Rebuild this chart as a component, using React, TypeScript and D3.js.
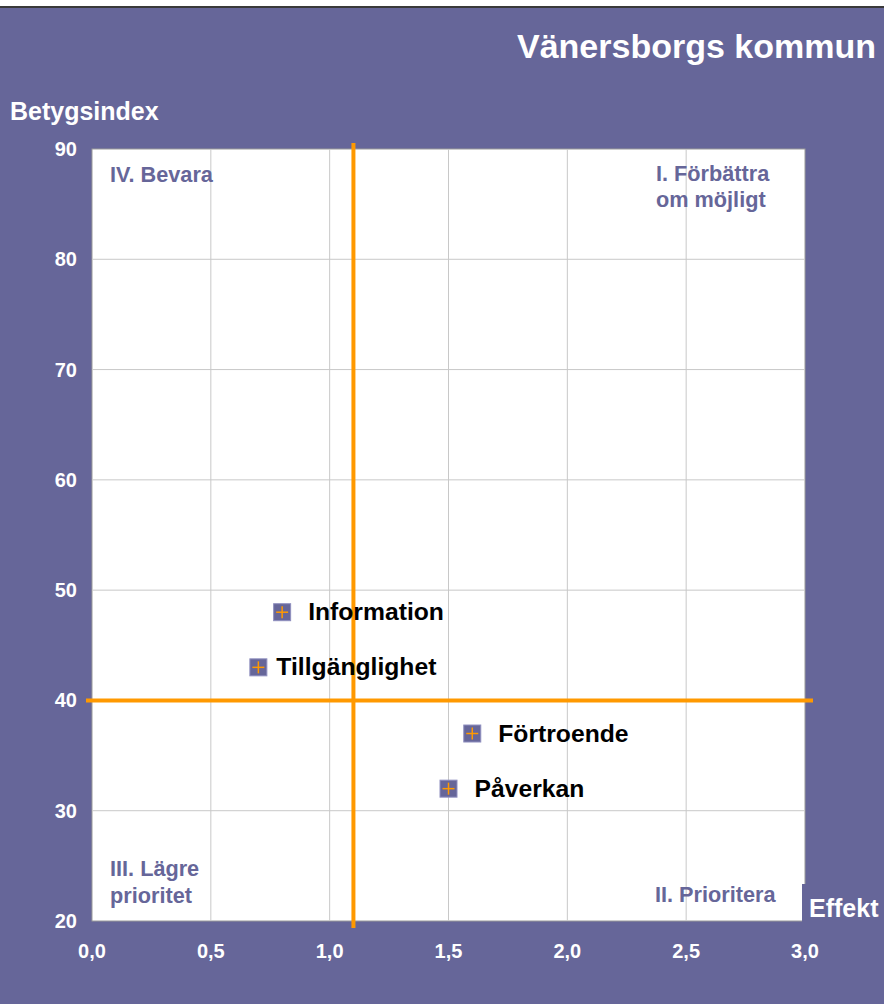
import React from "react";
import * as d3 from "d3";

const names = ["Information", "Tillgänglighet", "Förtroende", "Påverkan"];
const effekt = [0.8, 0.7, 1.6, 1.5];
const betyg = [48, 43, 37, 32];
const xTicks = [0, 0.5, 1.0, 1.5, 2.0, 2.5, 3.0];
const yTicks = [20, 30, 40, 50, 60, 70, 80, 90];
const xCross = 1.1;
const yCross = 40;
const quadrantTop = ["IV. Bevara"];
const quadrantTopRight = ["I. Förbättra", "om möjligt"];
const quadrantBottomLeft = ["III. Lägre", "prioritet"];
const quadrantBottomRight = ["II. Prioritera"];

const labelDx: Record<string, number> = {
  Information: 26,
  Tillgänglighet: 18,
  Förtroende: 26,
  Påverkan: 26,
};

const W = 884;
const H = 1004;
const PURPLE = "#666699";
const ORANGE = "#FF9900";
const FONT = "'Liberation Sans', Arial, sans-serif";

export default function App() {
  const x = d3.scaleLinear().domain([0, 3]).range([92, 805]);
  const y = d3.scaleLinear().domain([20, 90]).range([921, 149]);
  const fmt = (v: number) => d3.format(".1f")(v).replace(".", ",");
  const [x0, x1] = x.range();
  const [y0, y1] = y.range();

  return (
    <svg
      width={W}
      height={H}
      style={{ position: "absolute", left: 0, top: 0, display: "block" }}
      fontFamily={FONT}
    >
      <rect x={0} y={0} width={W} height={H} fill="#ffffff" />
      <rect x={0} y={6} width={W} height={2} fill="#3a3a3a" />
      <rect x={0} y={8} width={W} height={H - 8} fill={PURPLE} />

      <text x={876} y={58} textAnchor="end" fill="#fff" fontWeight="bold" fontSize={34}>
        Vänersborgs kommun
      </text>
      <text x={10} y={120} fill="#fff" fontWeight="bold" fontSize={25}>
        Betygsindex
      </text>

      {/* plot area */}
      <rect x={x0} y={y1} width={x1 - x0} height={y0 - y1} fill="#fff" stroke="#999" strokeWidth={1} />
      {xTicks.slice(1, -1).map((t) => (
        <line key={"gx" + t} x1={x(t)} x2={x(t)} y1={y1} y2={y0} stroke="#c8c8c8" strokeWidth={1} />
      ))}
      {yTicks.slice(1, -1).map((t) => (
        <line key={"gy" + t} x1={x0} x2={x1} y1={y(t)} y2={y(t)} stroke="#c8c8c8" strokeWidth={1} />
      ))}

      {/* tick labels */}
      {yTicks.map((t) => (
        <text key={"ty" + t} x={77} y={y(t) + 7} textAnchor="end" fill="#fff" fontWeight="bold" fontSize={20}>
          {t}
        </text>
      ))}
      {xTicks.map((t) => (
        <text key={"tx" + t} x={x(t)} y={958} textAnchor="middle" fill="#fff" fontWeight="bold" fontSize={20}>
          {fmt(t)}
        </text>
      ))}

      {/* quadrant labels */}
      <g fill={PURPLE} fontWeight="bold" fontSize={21.7}>
        {quadrantTop.map((s, i) => (
          <text key={s} x={110} y={182 + i * 26}>{s}</text>
        ))}
        {quadrantTopRight.map((s, i) => (
          <text key={s} x={656} y={181 + i * 26}>{s}</text>
        ))}
        {quadrantBottomLeft.map((s, i) => (
          <text key={s} x={110} y={876 + i * 27}>{s}</text>
        ))}
        {quadrantBottomRight.map((s, i) => (
          <text key={s} x={655} y={902 + i * 26}>{s}</text>
        ))}
      </g>

      {/* crossing lines */}
      <line x1={x(xCross)} x2={x(xCross)} y1={143} y2={928} stroke={ORANGE} strokeWidth={4} />
      <line x1={86} x2={813} y1={y(yCross)} y2={y(yCross)} stroke={ORANGE} strokeWidth={4} />

      {/* points */}
      {names.map((n, i) => {
        const cx = x(effekt[i]);
        const cy = y(betyg[i]);
        const s = 17;
        return (
          <g key={n}>
            <rect x={cx - s / 2} y={cy - s / 2} width={s} height={s} fill={PURPLE} stroke="#8f8fbf" strokeWidth={1} />
            <line x1={cx - 6} x2={cx + 6} y1={cy} y2={cy} stroke={ORANGE} strokeWidth={1.5} />
            <line x1={cx} x2={cx} y1={cy - 6} y2={cy + 6} stroke={ORANGE} strokeWidth={1.5} />
            <text x={cx + labelDx[n]} y={cy + 8} fill="#000" fontWeight="bold" fontSize={24.7}>
              {n}
            </text>
          </g>
        );
      })}

      {/* Effekt axis label */}
      <rect x={802} y={884} width={W - 802} height={42} fill={PURPLE} />
      <text x={809} y={917} fill="#fff" fontWeight="bold" fontSize={25}>
        Effekt
      </text>
    </svg>
  );
}
